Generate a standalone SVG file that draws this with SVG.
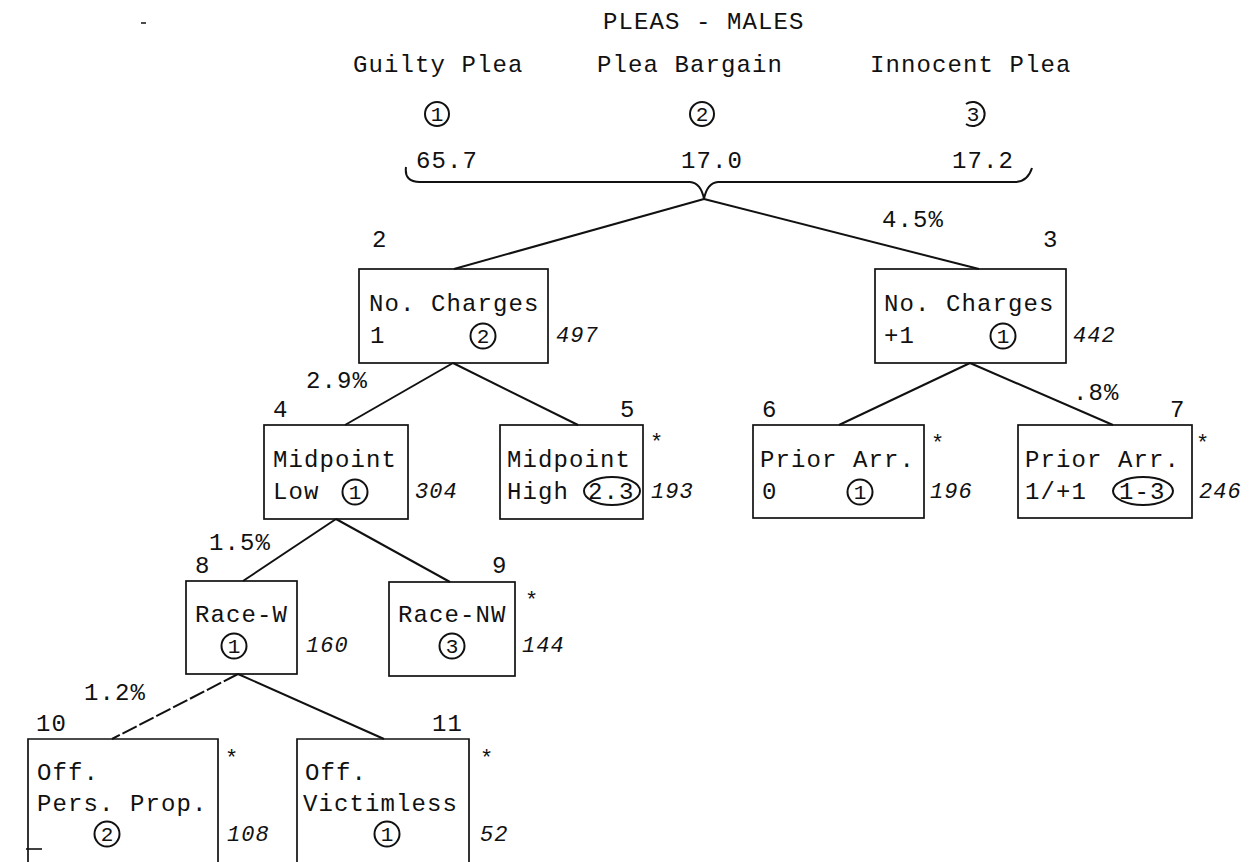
<svg xmlns="http://www.w3.org/2000/svg" width="1259" height="862" viewBox="0 0 1259 862">
<style>
.t{font-family:"Liberation Mono","DejaVu Sans Mono",monospace;font-size:24px;letter-spacing:1.1px;fill:#111}
.n{font-family:"Liberation Mono","DejaVu Sans Mono",monospace;font-size:22px;font-style:italic;letter-spacing:1px;fill:#111}
.d{font-family:"Liberation Mono","DejaVu Sans Mono",monospace;font-size:21px;text-anchor:middle;fill:#111}
.s{font-family:"Liberation Mono","DejaVu Sans Mono",monospace;font-size:22px;fill:#111}
.box{fill:none;stroke:#111;stroke-width:1.7}
.c{fill:none;stroke:#111;stroke-width:2}
.e{fill:none;stroke:#111;stroke-width:2}
.dash{stroke-dasharray:16 3}
</style>
<rect width="1259" height="862" fill="#fff"/>
<line x1="141" y1="23" x2="146" y2="23" stroke="#111" stroke-width="1.5"/>

<g id="connectors">
<path class="e" d="M406 167 Q404 182 420 182 L690 182 Q701 183 704 199 Q707 183 718 182 L1016 182 Q1028 181 1032 168"/>
<path class="e" d="M704 199 L454 269"/>
<path class="e" d="M704 199 L979 269"/>
<path class="e" d="M453 363 L345 425"/>
<path class="e" d="M453 363 L578 425"/>
<path class="e" d="M970 363 L839 425"/>
<path class="e" d="M970 363 L1113 425"/>
<path class="e" d="M336 519 L243 581"/>
<path class="e" d="M336 519 L450 582"/>
<path class="e dash" d="M238 674 L112 739"/>
<path class="e" d="M238 674 L384 739"/>
<text class="t" x="882" y="227">4.5%</text>
<text class="t" x="306" y="388">2.9%</text>
<text class="t" x="1073" y="400">.8%</text>
<text class="t" x="209" y="550">1.5%</text>
<text class="t" x="84" y="700">1.2%</text>
</g>

<g id="node1">
<text class="t" x="603" y="29">PLEAS - MALES</text>
<text class="t" x="353" y="72">Guilty Plea</text>
<text class="t" x="597" y="72">Plea Bargain</text>
<text class="t" x="870" y="72">Innocent Plea</text>
<circle class="c" cx="437" cy="114" r="12"/><text class="d" x="437" y="121">1</text>
<circle class="c" cx="702" cy="114" r="12"/><text class="d" x="702" y="121">2</text>
<path class="c" d="M966 104 A12 12 0 1 1 966 124"/><text class="d" x="973" y="121">3</text>
<text class="t" x="416" y="168">65.7</text>
<text class="t" x="681" y="168">17.0</text>
<text class="t" x="952" y="168">17.2</text>
</g>

<g id="node2">
<text class="t" x="372" y="247">2</text>
<rect class="box" x="359" y="269" width="189" height="94"/>
<text class="t" x="369" y="311">No. Charges</text>
<text class="t" x="370" y="343">1</text>
<circle class="c" cx="483" cy="336" r="12.5"/><text class="d" x="483" y="343">2</text>
<text class="n" x="556" y="342">497</text>
</g>

<g id="node3">
<text class="t" x="1043" y="247">3</text>
<rect class="box" x="875" y="269" width="191" height="94"/>
<text class="t" x="884" y="311">No. Charges</text>
<text class="t" x="884" y="343">+1</text>
<circle class="c" cx="1003" cy="336" r="12.5"/><text class="d" x="1003" y="343">1</text>
<text class="n" x="1073" y="342">442</text>
</g>

<g id="node4">
<text class="t" x="273" y="417">4</text>
<rect class="box" x="264" y="425" width="144" height="94"/>
<text class="t" x="273" y="467">Midpoint</text>
<text class="t" x="273" y="499">Low</text>
<circle class="c" cx="355" cy="492" r="12.5"/><text class="d" x="355" y="499">1</text>
<text class="n" x="415" y="498">304</text>
</g>

<g id="node5">
<text class="t" x="620" y="417">5</text>
<text class="s" x="650" y="449">*</text>
<rect class="box" x="500" y="425" width="143" height="94"/>
<text class="t" x="507" y="467">Midpoint</text>
<text class="t" x="507" y="499">High</text>
<text class="t" x="588" y="499">2.3</text>
<ellipse class="c" cx="612" cy="491" rx="28" ry="14"/>
<text class="n" x="651" y="498">193</text>
</g>

<g id="node6">
<text class="t" x="762" y="417">6</text>
<text class="s" x="931" y="450">*</text>
<rect class="box" x="753" y="425" width="171" height="93"/>
<text class="t" x="760" y="467">Prior Arr.</text>
<text class="t" x="762" y="499">0</text>
<circle class="c" cx="860" cy="492" r="12.5"/><text class="d" x="860" y="499">1</text>
<text class="n" x="930" y="498">196</text>
</g>

<g id="node7">
<text class="t" x="1170" y="417">7</text>
<text class="s" x="1196" y="450">*</text>
<rect class="box" x="1018" y="425" width="174" height="93"/>
<text class="t" x="1025" y="467">Prior Arr.</text>
<text class="t" x="1025" y="499">1/+1</text>
<text class="t" x="1119" y="499">1-3</text>
<ellipse class="c" cx="1143" cy="491" rx="30" ry="14"/>
<text class="n" x="1199" y="498">246</text>
</g>

<g id="node8">
<text class="t" x="195" y="573">8</text>
<rect class="box" x="186" y="581" width="111" height="93"/>
<text class="t" x="195" y="622">Race-W</text>
<circle class="c" cx="234" cy="646" r="12.5"/><text class="d" x="234" y="653">1</text>
<text class="n" x="306" y="652">160</text>
</g>

<g id="node9">
<text class="t" x="492" y="573">9</text>
<text class="s" x="525" y="607">*</text>
<rect class="box" x="389" y="582" width="126" height="94"/>
<text class="t" x="398" y="622">Race-NW</text>
<circle class="c" cx="452" cy="646" r="12.5"/><text class="d" x="452" y="653">3</text>
<text class="n" x="522" y="652">144</text>
</g>

<g id="node10">
<text class="t" x="36" y="731">10</text>
<text class="s" x="225" y="765">*</text>
<path class="box" d="M28 864 V739 H218 V864"/>
<line x1="26" y1="849" x2="42" y2="849" stroke="#111" stroke-width="1.6"/>
<text class="t" x="37" y="780">Off.</text>
<text class="t" x="37" y="811">Pers. Prop.</text>
<circle class="c" cx="107" cy="834" r="12.5"/><text class="d" x="107" y="841">2</text>
<text class="n" x="227" y="841">108</text>
</g>

<g id="node11">
<text class="t" x="432" y="731">11</text>
<text class="s" x="480" y="765">*</text>
<path class="box" d="M297 864 V739 H469 V864"/>
<text class="t" x="305" y="780">Off.</text>
<text class="t" x="303" y="811">Victimless</text>
<circle class="c" cx="387" cy="834" r="12.5"/><text class="d" x="387" y="841">1</text>
<text class="n" x="480" y="841">52</text>
</g>
</svg>
